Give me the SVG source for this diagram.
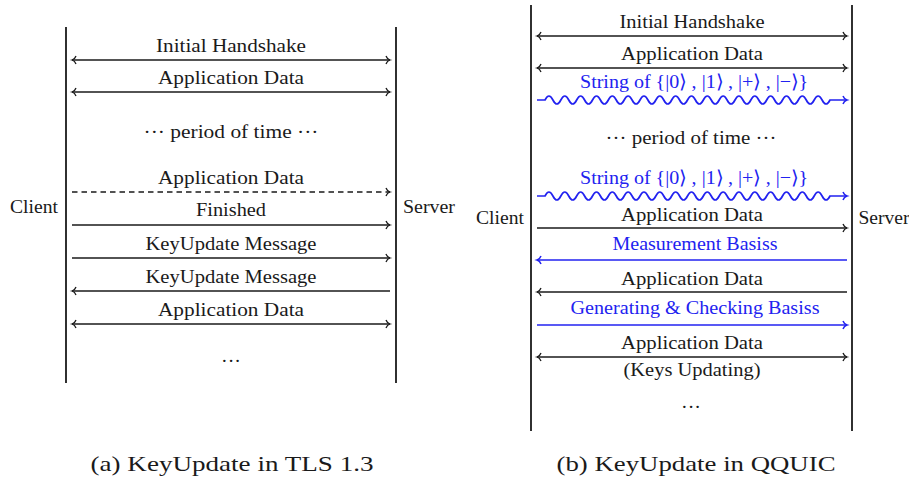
<svg xmlns="http://www.w3.org/2000/svg" width="909" height="477" viewBox="0 0 909 477">
<defs>
<marker id="ah" markerUnits="userSpaceOnUse" markerWidth="12" markerHeight="12" viewBox="-6 -6 12 12" refX="0" refY="0" orient="auto-start-reverse">
<path d="M-4,-4 C-3.2,-1.8 -1.4,-0.4 0,0 C-1.4,0.4 -3.2,1.8 -4,4" fill="none" stroke="#1a1a1a" stroke-width="1.3"/>
</marker>
<marker id="ahb" markerUnits="userSpaceOnUse" markerWidth="12" markerHeight="12" viewBox="-6 -6 12 12" refX="0" refY="0" orient="auto-start-reverse">
<path d="M-4,-4 C-3.2,-1.8 -1.4,-0.4 0,0 C-1.4,0.4 -3.2,1.8 -4,4" fill="none" stroke="#2222f0" stroke-width="1.5"/>
</marker>
</defs>
<g font-family="Liberation Serif" font-size="19" fill="#1a1a1a" text-anchor="middle" lengthAdjust="spacingAndGlyphs">

<!-- Left diagram (a) -->
<g id="a-client"><line stroke="#1a1a1a" stroke-width="1.8" x1="66" y1="27" x2="66" y2="383"/><text x="34" y="213" textLength="48" lengthAdjust="spacingAndGlyphs">Client</text></g>
<g id="a-server"><line stroke="#1a1a1a" stroke-width="1.8" x1="396" y1="27" x2="396" y2="383"/><text x="429" y="213" textLength="52" lengthAdjust="spacingAndGlyphs">Server</text></g>
<g id="a-period"><text x="231" y="138" textLength="175" lengthAdjust="spacingAndGlyphs">··· period of time ···</text></g>
<g id="a-dots"><text x="231" y="367" textLength="20" lengthAdjust="spacingAndGlyphs">···</text></g>
<g id="a-caption"><text font-size="22" x="232" y="471" textLength="283" lengthAdjust="spacingAndGlyphs">(a) KeyUpdate in TLS 1.3</text></g>

<!-- Right diagram (b) -->
<g id="b-client"><line stroke="#1a1a1a" stroke-width="1.8" x1="531" y1="5" x2="531" y2="431"/><text x="500" y="224" textLength="48" lengthAdjust="spacingAndGlyphs">Client</text></g>
<g id="b-server"><line stroke="#1a1a1a" stroke-width="1.8" x1="852" y1="5" x2="852" y2="431"/><text x="884" y="224" textLength="51" lengthAdjust="spacingAndGlyphs">Server</text></g>
<g id="b-period"><text x="691" y="144" textLength="171" lengthAdjust="spacingAndGlyphs">··· period of time ···</text></g>
<g id="b-dots"><text x="691" y="413" textLength="20" lengthAdjust="spacingAndGlyphs">···</text></g>
<g id="b-caption"><text font-size="22" x="696" y="471" textLength="279" lengthAdjust="spacingAndGlyphs">(b) KeyUpdate in QQUIC</text></g>

<g id="connectors" stroke-width="1.3">
<!-- (a) -->
<g stroke="#1a1a1a" fill="none">
<line x1="72" y1="60" x2="390" y2="60" marker-start="url(#ah)" marker-end="url(#ah)"/>
<line x1="72" y1="92" x2="390" y2="92" marker-start="url(#ah)" marker-end="url(#ah)"/>
<line stroke-dasharray="5.5 4" x1="72" y1="192" x2="390" y2="192" marker-end="url(#ah)"/>
<line x1="72" y1="225" x2="390" y2="225" marker-end="url(#ah)"/>
<line x1="72" y1="258" x2="390" y2="258" marker-end="url(#ah)"/>
<line x1="390" y1="291" x2="72" y2="291" marker-end="url(#ah)"/>
<line x1="72" y1="324" x2="390" y2="324" marker-start="url(#ah)" marker-end="url(#ah)"/>
<line x1="537" y1="36" x2="847" y2="36" marker-start="url(#ah)" marker-end="url(#ah)"/>
<line x1="537" y1="68" x2="847" y2="68" marker-start="url(#ah)" marker-end="url(#ah)"/>
<line x1="537" y1="228" x2="847" y2="228" marker-end="url(#ah)"/>
<line x1="847" y1="292" x2="537" y2="292" marker-end="url(#ah)"/>
<line x1="537" y1="357" x2="847" y2="357" marker-start="url(#ah)" marker-end="url(#ah)"/>
</g>
<g stroke="#2222f0" fill="none" stroke-width="1.7">
<path d="M537,100 H545 q3.958,-8 7.917,0 t7.917,0 t7.917,0 t7.917,0 t7.917,0 t7.917,0 t7.917,0 t7.917,0 t7.917,0 t7.917,0 t7.917,0 t7.917,0 t7.917,0 t7.917,0 t7.917,0 t7.917,0 t7.917,0 t7.917,0 t7.917,0 t7.917,0 t7.917,0 t7.917,0 t7.917,0 t7.917,0 t7.917,0 t7.917,0 t7.917,0 t7.917,0 t7.917,0 t7.917,0 t7.917,0 t7.917,0 t7.917,0 t7.917,0 t7.917,0 t7.917,0 H847" marker-end="url(#ahb)"/>
<path d="M537,196 H545 q3.958,-8 7.917,0 t7.917,0 t7.917,0 t7.917,0 t7.917,0 t7.917,0 t7.917,0 t7.917,0 t7.917,0 t7.917,0 t7.917,0 t7.917,0 t7.917,0 t7.917,0 t7.917,0 t7.917,0 t7.917,0 t7.917,0 t7.917,0 t7.917,0 t7.917,0 t7.917,0 t7.917,0 t7.917,0 t7.917,0 t7.917,0 t7.917,0 t7.917,0 t7.917,0 t7.917,0 t7.917,0 t7.917,0 t7.917,0 t7.917,0 t7.917,0 t7.917,0 H847" marker-end="url(#ahb)"/>
<line x1="847" y1="260" x2="537" y2="260" marker-end="url(#ahb)"/>
<line x1="537" y1="325" x2="847" y2="325" marker-end="url(#ahb)"/>
</g>
<text x="231" y="52" textLength="150" lengthAdjust="spacingAndGlyphs">Initial Handshake</text>
<text x="231" y="84" textLength="146" lengthAdjust="spacingAndGlyphs">Application Data</text>
<text x="231" y="184" textLength="146" lengthAdjust="spacingAndGlyphs">Application Data</text>
<text x="231" y="216" textLength="70" lengthAdjust="spacingAndGlyphs">Finished</text>
<text x="231" y="250" textLength="171" lengthAdjust="spacingAndGlyphs">KeyUpdate Message</text>
<text x="231" y="283" textLength="171" lengthAdjust="spacingAndGlyphs">KeyUpdate Message</text>
<text x="231" y="316" textLength="146" lengthAdjust="spacingAndGlyphs">Application Data</text>
<text x="692" y="28" textLength="145" lengthAdjust="spacingAndGlyphs">Initial Handshake</text>
<text x="692" y="60" textLength="142" lengthAdjust="spacingAndGlyphs">Application Data</text>
<text fill="#2222f0" x="694" y="88" textLength="228" lengthAdjust="spacingAndGlyphs">String of {|0⟩ , |1⟩ , |+⟩ , |−⟩}</text>
<text fill="#2222f0" x="694" y="184" textLength="228" lengthAdjust="spacingAndGlyphs">String of {|0⟩ , |1⟩ , |+⟩ , |−⟩}</text>
<text x="692" y="221" textLength="142" lengthAdjust="spacingAndGlyphs">Application Data</text>
<text fill="#2222f0" x="695" y="250" textLength="165" lengthAdjust="spacingAndGlyphs">Measurement Basiss</text>
<text x="692" y="285" textLength="142" lengthAdjust="spacingAndGlyphs">Application Data</text>
<text fill="#2222f0" x="695" y="314" textLength="249" lengthAdjust="spacingAndGlyphs">Generating &amp; Checking Basiss</text>
<text x="692" y="349" textLength="142" lengthAdjust="spacingAndGlyphs">Application Data</text>
<text x="692" y="376" textLength="137" lengthAdjust="spacingAndGlyphs">(Keys Updating)</text>
</g>
</g>
</svg>
